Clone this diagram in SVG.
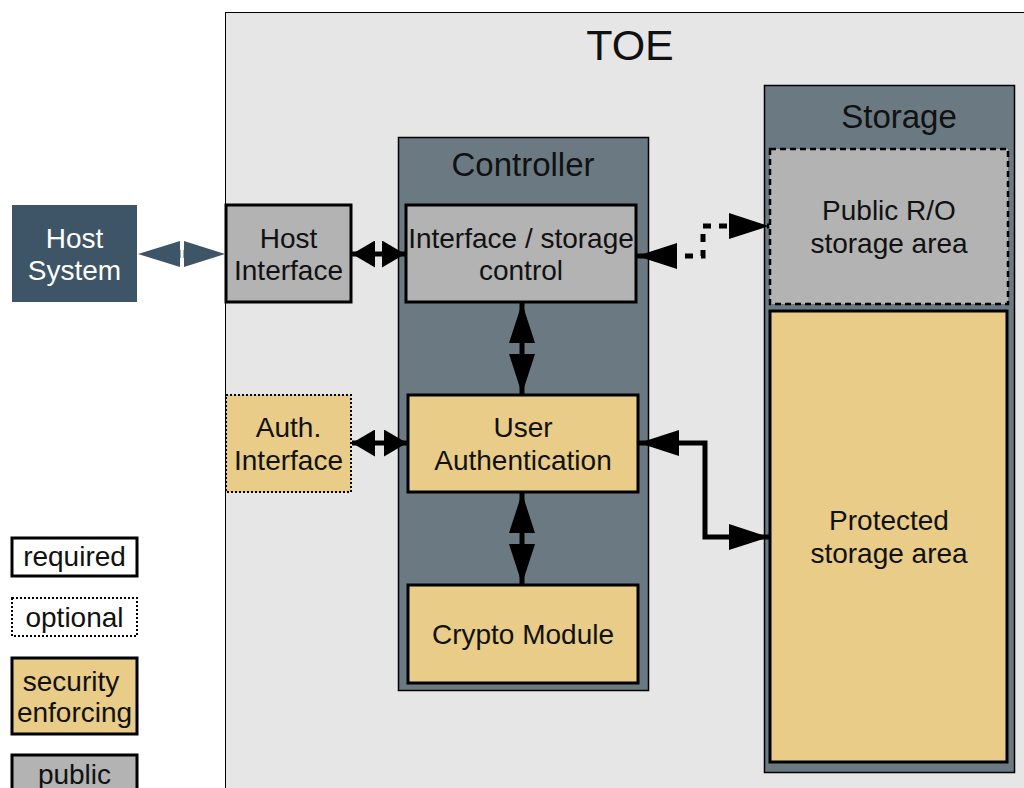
<svg xmlns="http://www.w3.org/2000/svg" width="1024" height="788" viewBox="0 0 1024 788">
<style>
text{font-family:"Liberation Sans",Arial,sans-serif;fill:#111;text-anchor:middle}
.lbl{font-size:28px}
.ttl{font-size:33px}
.box{stroke:#000;stroke-width:3}
.gray{fill:#b3b3b3}
.tan{fill:#e8cc87}
.slate{fill:#6b7a82;stroke:#000;stroke-width:1.5}
.conn{fill:none;stroke:#000;stroke-width:5}
</style>
<defs>
<marker id="ah" viewBox="0 0 40 26" refX="40" refY="13" markerWidth="40" markerHeight="26" markerUnits="userSpaceOnUse" orient="auto-start-reverse"><path d="M0,0 L40,13 L0,26 Z" fill="#000"/></marker>
<marker id="ahs" viewBox="0 0 23 27" refX="23" refY="13.5" markerWidth="23" markerHeight="27" markerUnits="userSpaceOnUse" orient="auto-start-reverse"><path d="M0,0 L23,13.5 L0,27 Z" fill="#000"/></marker>
</defs>
<rect width="1024" height="788" fill="#fff"/>
<g id="toe">
<rect x="225.5" y="12.5" width="820" height="800" fill="#e6e6e6" stroke="#000" stroke-width="1"/>
<text x="630" y="60" style="font-size:43px">TOE</text>
</g>
<g id="host-system">
<rect x="12" y="205" width="125" height="97" fill="#3d5566"/>
<text class="lbl" x="74.5" y="248" style="fill:#fff">Host</text>
<text class="lbl" x="74.5" y="280" style="fill:#fff">System</text>
</g>
<g id="host-interface">
<rect class="box gray" x="226" y="205" width="125" height="97"/>
<text class="lbl" x="288.5" y="248">Host</text>
<text class="lbl" x="288.5" y="280">Interface</text>
</g>
<g id="controller">
<rect class="slate" x="398.5" y="137.5" width="250" height="553"/>
<text class="ttl" x="523" y="176">Controller</text>
</g>
<g id="interface-storage-control">
<rect class="box gray" x="406" y="205" width="230" height="97"/>
<text class="lbl" x="521" y="248">Interface / storage</text>
<text class="lbl" x="521" y="280">control</text>
</g>
<g id="user-authentication">
<rect class="box tan" x="408" y="395" width="230" height="97"/>
<text class="lbl" x="523" y="437">User</text>
<text class="lbl" x="523" y="470">Authentication</text>
</g>
<g id="crypto-module">
<rect class="box tan" x="408" y="585" width="230" height="98"/>
<text class="lbl" x="523" y="644">Crypto Module</text>
</g>
<g id="auth-interface">
<rect class="tan" x="226" y="395" width="125" height="97" stroke="#000" stroke-width="2" stroke-dasharray="2 2"/>
<text class="lbl" x="288.5" y="437">Auth.</text>
<text class="lbl" x="288.5" y="470">Interface</text>
</g>
<g id="storage">
<rect class="slate" x="764.5" y="85.5" width="250" height="687"/>
<text class="ttl" x="899" y="128">Storage</text>
</g>
<g id="public-ro">
<rect class="gray" x="770" y="149" width="238" height="155" stroke="#000" stroke-width="2.5" stroke-dasharray="6 4"/>
<text class="lbl" x="889" y="220">Public R/O</text>
<text class="lbl" x="889" y="253">storage area</text>
</g>
<g id="protected">
<rect class="box tan" x="770" y="311" width="237" height="451"/>
<text class="lbl" x="889" y="530">Protected</text>
<text class="lbl" x="889" y="563">storage area</text>
</g>
<g id="legend">
<g id="legend-required"><rect x="12" y="538" width="125" height="38" fill="#fff" stroke="#000" stroke-width="3"/><text class="lbl" x="74.5" y="566">required</text></g>
<g id="legend-optional"><rect x="12" y="598" width="125" height="38" fill="#fff" stroke="#000" stroke-width="2" stroke-dasharray="2 2"/><text class="lbl" x="74.5" y="627">optional</text></g>
<g id="legend-security"><rect x="12" y="658" width="125" height="76" class="box tan"/><text class="lbl" x="71" y="691">security</text><text class="lbl" x="74.5" y="722">enforcing</text></g>
<g id="legend-public"><rect x="12" y="755" width="125" height="50" class="box gray"/><text class="lbl" x="74.5" y="784">public</text></g>
</g>
<g id="connectors">
<g fill="#3d5566">
<path d="M138,254 L180,241 L180,267 Z"/>
<path d="M225,254 L184,241 L184,267 Z"/>
<rect x="178" y="250" width="8" height="8"/>
<rect x="180.5" y="249" width="3" height="10" fill="#fff"/>
</g>
<line class="conn" x1="352" y1="254" x2="405" y2="254" marker-start="url(#ahs)" marker-end="url(#ahs)"/>
<line class="conn" x1="352" y1="443" x2="407" y2="443" marker-start="url(#ahs)" marker-end="url(#ahs)"/>
<line class="conn" x1="522" y1="303" x2="522" y2="394" marker-start="url(#ah)" marker-end="url(#ah)"/>
<line class="conn" x1="522" y1="493" x2="522" y2="584" marker-start="url(#ah)" marker-end="url(#ah)"/>
<polyline class="conn" points="637,256 703,256 703,226 769,226" stroke-dasharray="8 8" marker-start="url(#ah)" marker-end="url(#ah)"/>
<polyline class="conn" points="639,443 705,443 705,537 769,537" marker-start="url(#ah)" marker-end="url(#ah)"/>
</g>
</svg>
